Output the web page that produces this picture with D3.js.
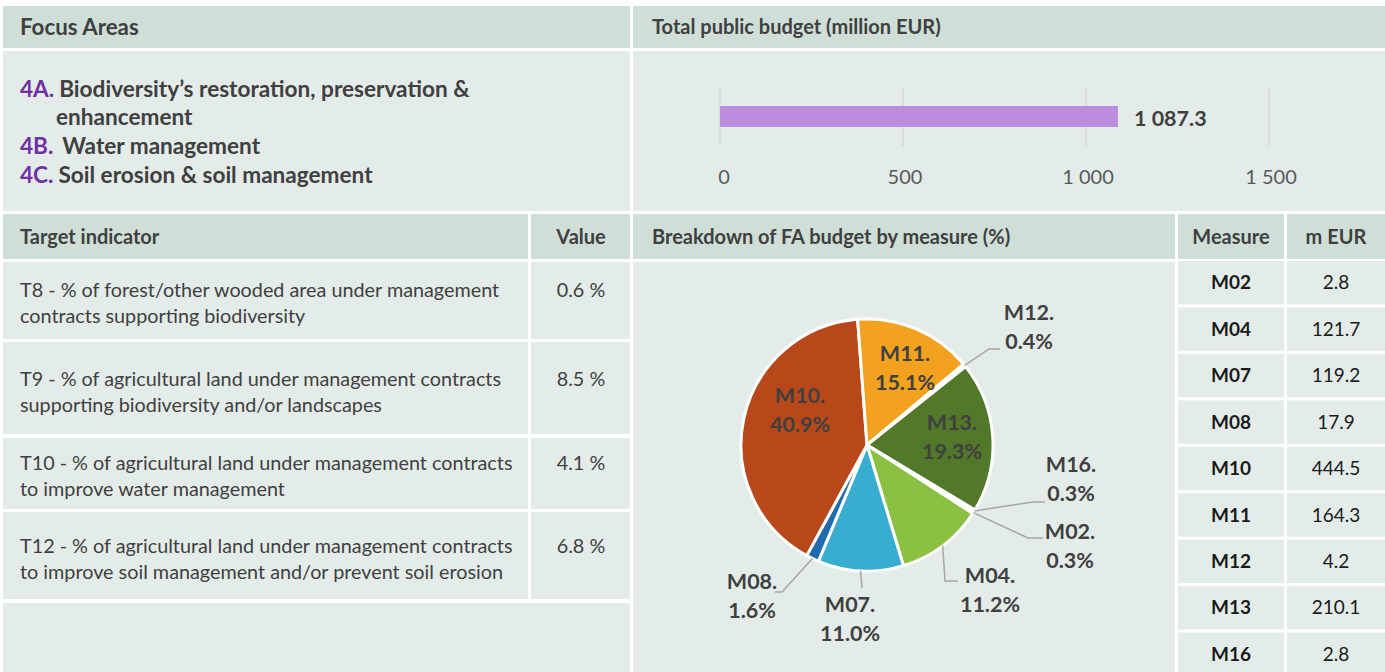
<!DOCTYPE html>
<html>
<head>
<meta charset="utf-8">
<script src="https://cdn.jsdelivr.net/npm/d3@7"></script>
<style>
body { margin: 0; background: #fff; }
text { font-family: Lato, "Open Sans", sans-serif; fill: #404040; }
</style>
</head>
<body>
<svg id="chart"></svg>
<script>
// data
var focusCodes = ["4A.", "4B.", "4C."]
var focusNames = [["Biodiversity’s restoration, preservation &", "enhancement"], ["Water management"], ["Soil erosion & soil management"]]
var totalBudget = 1087.3
var budgetTicks = [0, 500, 1000, 1500]
var indicators = [
    ["T8 - % of forest/other wooded area under management", "contracts supporting biodiversity"],
    ["T9 - % of agricultural land under management contracts", "supporting biodiversity and/or landscapes"],
    ["T10 - % of agricultural land under management contracts", "to improve water management"],
    ["T12 - % of agricultural land under management contracts", "to improve soil management and/or prevent soil erosion"]
]
var indicatorValues = [0.6, 8.5, 4.1, 6.8]
var measures = ["M02", "M04", "M07", "M08", "M10", "M11", "M12", "M13", "M16"]
var measureBudget = [2.8, 121.7, 119.2, 17.9, 444.5, 164.3, 4.2, 210.1, 2.8]

// styles / layout
var W = 1385, H = 672
var headBg = "#cfdfd8", cellBg = "#e4ece9", purple = "#7030a0"
var sliceColors = {M02: "#ffffff", M04: "#8bc043", M07: "#37aecf", M08: "#1f6bae", M10: "#b8481a",
    M11: "#f2a21e", M12: "#ffffff", M13: "#52782a", M16: "#ffffff"}
// label offsets from pie centre, leader elbow + end
var labelPos = {
    M10: {dx: -67, dy: -35}, M11: {dx: 38, dy: -77}, M13: {dx: 85, dy: -8},
    M12: {dx: 162, dy: -118, elbow: [122, -96], end: [133, -96]},
    M16: {dx: 204, dy: 34, elbow: [166, 57], end: [178, 57]},
    M02: {dx: 203, dy: 101, elbow: [161, 93], end: [176, 93]},
    M04: {dx: 123, dy: 145, elbow: [78, 136], end: [91, 136]},
    M07: {dx: -17, dy: 174, elbow: [-5, 143], end: [-5, 143]},
    M08: {dx: -115, dy: 151, elbow: [-85, 147], end: [-92, 147]}
}

var fmtLocale = d3.formatLocale({decimal: ".", thousands: " ", grouping: [3], currency: ["", ""]})
var fmtBig = fmtLocale.format(",")
var fmtBig1 = fmtLocale.format(",.1f")

var svg = d3.select("#chart").attr("width", W).attr("height", H)
svg.append("rect").attr("width", W).attr("height", H).attr("fill", "#fff")

function cell(x0, y0, x1, y1, fill) {
    svg.append("rect").attr("x", x0).attr("y", y0).attr("width", x1 - x0).attr("height", y1 - y0).attr("fill", fill)
}

// --- top section
cell(3, 6, 630, 48, headBg)
cell(633, 6, W, 48, headBg)
cell(3, 51, 630, 211, cellBg)
cell(633, 51, W, 211, cellBg)

svg.append("text").attr("x", 20).attr("y", 27).attr("dy", "0.35em")
    .attr("font-size", 22.3).attr("font-weight", "bold").text("Focus Areas")
svg.append("text").attr("x", 652).attr("y", 27).attr("dy", "0.35em")
    .attr("font-size", 20).attr("font-weight", "bold").text("Total public budget (million EUR)")

var focusY = [89, 146, 175]
focusCodes.forEach(function(c, i) {
    var t = svg.append("text").attr("x", 20).attr("y", focusY[i]).attr("dy", "0.35em")
        .attr("font-size", 22.6).attr("font-weight", "bold")
    t.append("tspan").style("fill", purple).text(c)
    t.append("tspan").attr("dx", i == 1 ? 10 : 5).text(focusNames[i][0])
    if (focusNames[i][1]) {
        svg.append("text").attr("x", 56).attr("y", focusY[i] + 28).attr("dy", "0.35em")
            .attr("font-size", 22.6).attr("font-weight", "bold").text(focusNames[i][1])
    }
})

// bar chart
var x = d3.scaleLinear().domain([0, 1500]).range([720, 1269])
var bar = svg.append("g")
bar.selectAll("line.grid").data(budgetTicks).enter().append("line")
    .attr("x1", x).attr("x2", x).attr("y1", 87).attr("y2", 146)
    .attr("stroke", "#d6d9d8").attr("stroke-width", 1.5)
bar.append("rect").attr("x", x(0)).attr("y", 106).attr("width", x(totalBudget) - x(0)).attr("height", 21)
    .attr("fill", "#bb8ddd")
bar.append("text").attr("x", x(totalBudget) + 16).attr("y", 118).attr("dy", "0.35em")
    .attr("font-size", 21.5).attr("font-weight", "bold").text(fmtBig1(totalBudget))
bar.selectAll("text.tick").data(budgetTicks).enter().append("text")
    .attr("x", function(d) { return x(d) + (d == 0 ? 4 : 2) }).attr("y", 177).attr("dy", "0.35em")
    .attr("text-anchor", "middle").attr("font-size", 20).style("fill", "#595959")
    .text(fmtBig)

// --- lower section headers
cell(3, 214, 528, 259, headBg)
cell(531, 214, 630, 259, headBg)
cell(633, 214, 1175, 259, headBg)
cell(1178, 214, 1284, 259, headBg)
cell(1287, 214, W, 259, headBg)
var hdr = [[20, "start", "Target indicator"], [581, "middle", "Value"],
    [652, "start", "Breakdown of FA budget by measure (%)"], [1231, "middle", "Measure"], [1336, "middle", "m EUR"]]
hdr.forEach(function(h) {
    svg.append("text").attr("x", h[0]).attr("y", 237).attr("dy", "0.35em").attr("text-anchor", h[1])
        .attr("font-size", 20).attr("font-weight", "bold").text(h[2])
})

// target indicator table
var rowTop = [262, 342, 438, 512], rowBot = [339, 434, 509, 599]
var rowText = [28, 37, 25, 34]
indicators.forEach(function(lines, i) {
    cell(3, rowTop[i], 528, rowBot[i], cellBg)
    cell(531, rowTop[i], 630, rowBot[i], cellBg)
    var y0 = rowTop[i] + rowText[i]
    lines.forEach(function(l, j) {
        svg.append("text").attr("x", 20).attr("y", y0 + j * 26).attr("dy", "0.35em")
            .attr("font-size", 19.8).text(l)
    })
    svg.append("text").attr("x", 581).attr("y", y0).attr("dy", "0.35em").attr("text-anchor", "middle")
        .attr("font-size", 19.8).text(indicatorValues[i].toFixed(1) + " %")
})
cell(3, 603, 630, H, cellBg)

// pie area
cell(633, 262, 1175, H, cellBg)
var cx = 867, cy = 445, r = 126
var total = d3.sum(measureBudget)
var a0 = 122 * Math.PI / 180
var pie = d3.pie().sort(null).value(function(d) { return d.v })
    .startAngle(a0).endAngle(a0 + 2 * Math.PI)
var arcs = pie(measures.map(function(m, i) { return {m: m, v: measureBudget[i]} }))
var arc = d3.arc().innerRadius(0).outerRadius(r)
var pg = svg.append("g").attr("transform", "translate(" + cx + "," + cy + ")")
pg.selectAll("path").data(arcs).enter().append("path")
    .attr("d", arc).attr("fill", function(d) { return sliceColors[d.data.m] })
    .attr("stroke", "#fff").attr("stroke-width", 3).attr("stroke-linejoin", "round")

var pct = d3.format(".1f")
arcs.forEach(function(d) {
    var p = labelPos[d.data.m]
    if (p.elbow) {
        var mid = (d.startAngle + d.endAngle) / 2
        var s = [Math.sin(mid) * r, -Math.cos(mid) * r]
        pg.append("polyline").attr("points", [s, p.elbow, p.end].map(function(q) { return q.join(",") }).join(" "))
            .attr("fill", "none").attr("stroke", "#a6a6a6").attr("stroke-width", 1.5)
    }
    var t = pg.append("text").attr("text-anchor", "middle").attr("font-size", 21.5).attr("font-weight", "bold")
    t.append("tspan").attr("x", p.dx).attr("y", p.dy - 14.5).attr("dy", "0.35em").text(d.data.m + ".")
    t.append("tspan").attr("x", p.dx).attr("y", p.dy + 14.5).attr("dy", "0.35em")
        .text(pct(d.data.v / total * 100) + "%")
})

// measure table
var y = d3.scaleBand().domain(measures).range([261, 676]).paddingInner(0.065).paddingOuter(0)
measures.forEach(function(m, i) {
    cell(1178, y(m), 1284, y(m) + y.bandwidth(), cellBg)
    cell(1287, y(m), W, y(m) + y.bandwidth(), cellBg)
    var yc = y(m) + y.bandwidth() / 2
    svg.append("text").attr("x", 1231).attr("y", yc).attr("dy", "0.35em").attr("text-anchor", "middle")
        .attr("font-size", 19).attr("font-weight", "bold").style("fill", "#1a1a1a").text(m)
    svg.append("text").attr("x", 1336).attr("y", yc).attr("dy", "0.35em").attr("text-anchor", "middle")
        .attr("font-size", 19).style("fill", "#1a1a1a").text(measureBudget[i].toFixed(1))
})
</script>
</body>
</html>
